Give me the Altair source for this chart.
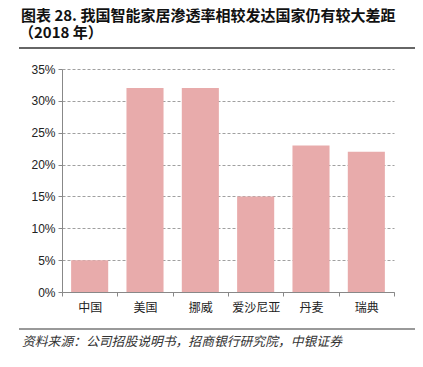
import altair as alt
import pandas as pd

countries = ["中国", "美国", "挪威", "爱沙尼亚", "丹麦", "瑞典"]
rates = [0.05, 0.32, 0.32, 0.15, 0.23, 0.22]
y_ticks = [0, 0.05, 0.10, 0.15, 0.20, 0.25, 0.30, 0.35]
title_line1 = "图表 28. 我国智能家居渗透率相较发达国家仍有较大差距"
title_line2 = "（2018 年）"
source_text = "资料来源：公司招股说明书，招商银行研究院，中银证券"

df = pd.DataFrame({"country": countries, "rate": rates})

W, H = 332, 223
CJK = "Noto Sans CJK SC"
LAT = "Liberation Sans"

bars = alt.Chart(df).mark_bar(color="#E8ABAB", width=alt.RelativeBandSize(0.67)).encode(
    x=alt.X("country:N", sort=countries,
            scale=alt.Scale(paddingInner=0, paddingOuter=0),
            axis=alt.Axis(title=None, labelAngle=0, tickBand="extent", grid=False,
                          domainColor="#888888", tickColor="#888888", tickSize=4,
                          labelFont=CJK, labelFontSize=12, labelColor="#222222",
                          labelPadding=6)),
    y=alt.Y("rate:Q",
            scale=alt.Scale(domain=[0, 0.35], nice=False),
            axis=alt.Axis(title=None, values=y_ticks, format=".0%", grid=True,
                          gridDash=[3, 2], gridColor="#a0a0a0",
                          domainColor="#888888", tickColor="#888888", tickSize=4,
                          labelFont=LAT, labelFontSize=12, labelColor="#222222",
                          labelPadding=3)),
)

one = pd.DataFrame({"a": [0]})

t1 = alt.Chart(pd.DataFrame({"t": [title_line1]})).mark_text(
    align="left", baseline="alphabetic", font=CJK, fontSize=15, fontWeight="bold", color="#111111"
).encode(text="t:N", x=alt.value(-41), y=alt.value(-48))

t2 = alt.Chart(pd.DataFrame({"t": [title_line2]})).mark_text(
    align="left", baseline="alphabetic", font=CJK, fontSize=15, fontWeight="bold", color="#111111"
).encode(text="t:N", x=alt.value(-43), y=alt.value(-31))

r1 = alt.Chart(one).mark_rule(color="#333333", strokeWidth=1.5).encode(
    x=alt.value(-43), x2=alt.value(355), y=alt.value(-21))

r2 = alt.Chart(one).mark_rule(color="#999999", strokeWidth=2).encode(
    x=alt.value(-43), x2=alt.value(355), y=alt.value(260))

src = alt.Chart(pd.DataFrame({"t": [source_text]})).mark_text(
    align="left", baseline="alphabetic", font=CJK, fontSize=12.8, fontStyle="italic", color="#333333"
).encode(text="t:N", x=alt.value(-40), y=alt.value(277))

chart = alt.layer(bars, t1, t2, r1, r2, src).properties(
    width=W, height=H,
    autosize=alt.AutoSizeParams(type="none"),
    padding={"left": 54, "top": 61, "right": 21, "bottom": 67},
).configure_view(stroke=None)

chart.save("out.html", embed_options={"renderer": "svg", "actions": False})
